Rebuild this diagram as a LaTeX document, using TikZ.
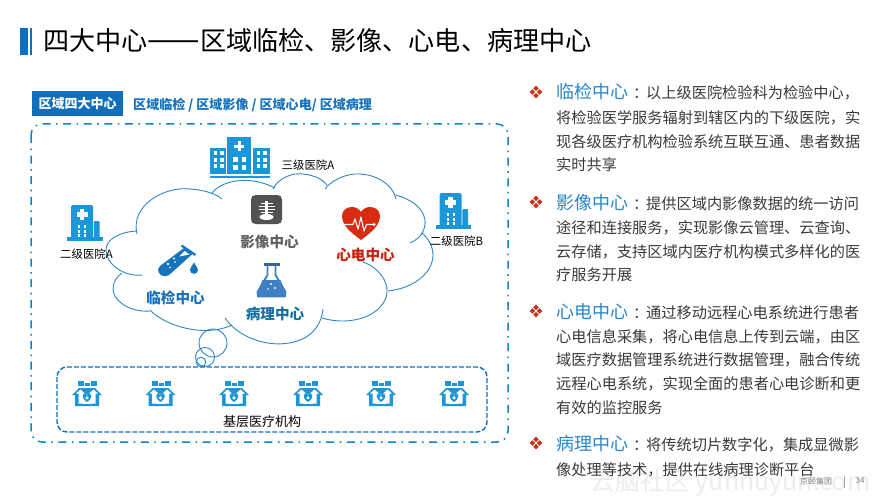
\documentclass[tikz,border=0pt]{standalone}
\usepackage{fontspec}
\setmainfont{Noto Sans CJK SC}
\definecolor{deepblue}{HTML}{0F6FBA}
\definecolor{iconblue}{HTML}{1B96D8}
\definecolor{cloudline}{HTML}{2F86C3}
\definecolor{headblue}{HTML}{2A86C8}
\definecolor{tubeblue}{HTML}{1673BD}
\definecolor{flaskblue}{HTML}{3F80C2}
\definecolor{bodygrey}{HTML}{3A3A3A}
\definecolor{heartred}{HTML}{D92A12}
\definecolor{bulletred}{HTML}{C8321C}
\newcommand{\sized}[1]{\fontsize{#1}{#1}\selectfont}
\tikzset{
  x=1pt,y=-1pt,
  bodyline/.style={anchor=base west,inner sep=0pt,text=bodygrey,font=\sized{15.2}},
  headline/.style={anchor=base west,inner sep=0pt,text=headblue,font=\sized{18}},
  centrelabel/.style={anchor=center,inner sep=0pt,font=\bfseries\sized{14.6}},
  hosplabel/.style={anchor=center,inner sep=0pt,text=black,font=\sized{11.4}},
  cloudarc/.style={draw=cloudline,line width=0.9pt},
}
% four small diamonds forming a list bullet
\newcommand{\listmark}[1]{%
  \begin{scope}[shift={(536,#1)}]
    \foreach \dx/\dy in {0/-3.6,0/3.6,-3.6/0,3.6/0}
      \fill[bulletred] (\dx,\dy-2.8) -- (\dx+2.8,\dy) -- (\dx,\dy+2.8) -- (\dx-2.8,\dy) -- cycle;
  \end{scope}}
% community clinic icon, drawn about its own centre
\newcommand{\clinic}[1]{%
  \begin{scope}[shift={(#1,394)}]
    \fill[iconblue] (-9,-13) rectangle (-3,-8);
    \fill[iconblue] (-2,-11) rectangle (3,-8);
    \fill[iconblue] (4,-13) rectangle (10,-8);
    \fill[iconblue] (-15,1) -- (-8,-6) -- (8,-6) -- (15,1) -- (12,1) -- (12,12) -- (-12,12) -- (-12,1) -- cycle;
    \fill[white] (-8.5,9.5) -- (-8.5,-0.5) -- (-11,-0.5) -- (-6.5,-4.5) -- (-2,-0.5) -- (-4.5,-0.5) -- (-4.5,9.5) -- cycle;
    \fill[white] (8.5,9.5) -- (8.5,-0.5) -- (11,-0.5) -- (6.5,-4.5) -- (2,-0.5) -- (4.5,-0.5) -- (4.5,9.5) -- cycle;
    \fill[white] (-5,0) rectangle (5,9.5);
    \fill[iconblue] (0,8) .. controls (-7,3.5) and (-4.5,-2.5) .. (0,0.5) .. controls (4.5,-2.5) and (7,3.5) .. (0,8) -- cycle;
    \fill[white] (0,3.8) circle[radius=1.7pt];
  \end{scope}}
% small hospital icon: origin at the top left of the main block
\newcommand{\smallhospital}[2]{%
  \begin{scope}[shift={(#1,#2)}]
    \fill[iconblue,rounded corners=1.5pt] (0,0) rectangle (22,33);
    \fill[iconblue,rounded corners=1pt] (22.8,16) rectangle (28.5,33);
    \fill[iconblue] (-4,32) rectangle (31.5,35.5);
    \fill[white] (8.6,4) rectangle (13.4,15);
    \fill[white] (5.5,7.1) rectangle (16.5,11.9);
    \foreach \wx in {7.2,13}
      \foreach \wy in {20,25,29}
        \fill[white] (\wx,\wy) rectangle +(2.2,2.6);
  \end{scope}}
\begin{document}
\begin{tikzpicture}
\useasboundingbox (0,0) rectangle (891,500);
\fill[white] (0,0) rectangle (891,500);

% pale site mark along the lower right corner
\node[anchor=base west,inner sep=0pt,text=black!7,font=\sized{25}] (sitemark) at (590,490) {云脑社区 yunhuyun.com};

% title with its double bar
\fill[deepblue] (20,28) rectangle (28,55);
\fill[deepblue] (30,28) rectangle (32,55);
\node[anchor=base west,inner sep=0pt,text=black,font=\sized{26.1}] (title) at (43,51) {四大中心{\sized{31.3}——}区域临检、影像、心电、病理中心};

% caption tab and its list of centres
\node[anchor=center,minimum width=91pt,minimum height=25pt,inner sep=0pt,fill=deepblue,text=white,font=\bfseries\sized{13}] (tab) at (77.5,104) {区域四大中心};
\node[anchor=base west,inner sep=0pt,text=tubeblue,font=\bfseries\sized{13.05}] (tablist) at (133,110) {区域临检 / 区域影像 / 区域心电/ 区域病理};

% outer frame and the frame of the primary care row
\draw[deepblue!85!cyan,line width=1.5pt,rounded corners=11pt,dash pattern=on 8pt off 5.5pt on 1.6pt off 5.5pt] (31,124) rectangle (508,442);
\draw[deepblue,line width=1.4pt,rounded corners=10pt,dash pattern=on 5pt off 2pt] (57,367) rectangle (487,432);

% the cloud, lobe by lobe
\draw[cloudarc] (137,234) .. controls (130,205) and (165,186) .. (190,189) .. controls (205,190) and (216,194) .. (222,199);
\draw[cloudarc] (137,231) .. controls (118,232) and (106,240) .. (106,250) .. controls (106,265) and (125,277) .. (142,275);
\draw[cloudarc] (122,273) .. controls (112,280) and (110,292) .. (118,300) .. controls (126,309) and (140,312) .. (150,311);
\draw[cloudarc] (150,310) .. controls (165,326) and (205,338) .. (232,325);
\draw[cloudarc] (225,318) .. controls (240,340) and (275,350) .. (300,340) .. controls (314,335) and (322,322) .. (323,309);
\draw[cloudarc] (322,318) .. controls (345,325) and (375,320) .. (385,300) .. controls (392,285) and (380,268) .. (363,262);
\draw[cloudarc] (388,291) .. controls (415,288) and (433,272) .. (433,255) .. controls (433,246) and (428,238) .. (422,233);
\draw[cloudarc] (410,243) .. controls (422,238) and (426,228) .. (425,220) .. controls (423,207) and (410,199) .. (396,195);
\draw[cloudarc] (396,199) .. controls (392,182) and (372,173) .. (355,174) .. controls (342,175) and (330,182) .. (325,189);
\draw[cloudarc] (327,185) .. controls (320,176) and (305,173) .. (295,174) .. controls (285,176) and (277,181) .. (273,189);
\draw[cloudarc] (212,193) .. controls (222,180) and (250,175) .. (275,188);

% thought bubbles trailing from the cloud
\draw[cloudarc] (213,343) circle[radius=14pt];
\draw[cloudarc] (205,357) circle[radius=9.5pt];
\draw[cloudarc] (201,362) circle[radius=4.8pt];

% tertiary hospital, three blocks on one line
\fill[iconblue] (210,148) rectangle (226,174);
\fill[iconblue] (227,137) rectangle (251,174);
\fill[iconblue] (253,148) rectangle (270,174);
\fill[iconblue] (210,176.4) rectangle (270,178);
\foreach \bx in {213.5,220,256.5,263}
  \foreach \by in {151,157.5,163.5}
    \fill[white] (\bx,\by) rectangle +(3.6,4);
\foreach \bx in {233,241.5}
  \foreach \by in {157,165}
    \fill[white] (\bx,\by) rectangle +(4.5,4.5);
\fill[white] (237.5,141) rectangle (240.5,151);
\fill[white] (234,144.5) rectangle (244,147.5);

% secondary hospitals
\smallhospital{71}{205}
\smallhospital{439.5}{193}

% test tube and drop
\fill[tubeblue] (184,248) -- (192.5,254) -- (169,275) .. controls (165,277.5) and (160,276) .. (158.5,272) .. controls (157.5,270) and (158,268) .. (160,266) -- cycle;
\fill[white] (184.5,251) -- (189.5,254.5) -- (179,256.5) -- cycle;
\fill[white] (168,264) circle[radius=1.4pt];
\fill[white] (174,258.5) circle[radius=1.1pt];
\fill[white] (175,262) circle[radius=0.9pt];
\fill[white] (170,267.5) circle[radius=0.8pt];
\draw[tubeblue,line width=2.2pt] (181.5,245.5) -- (195.5,255);
\fill[tubeblue] (194,262.5) .. controls (192,266) and (190,268) .. (190,270) .. controls (190,275) and (198,275) .. (198,270) .. controls (198,268) and (196,266) .. (194,262.5) -- cycle;

% imaging tile with ribcage
\fill[black!68,rounded corners=4.5pt] (251,195) rectangle (282,224);
\fill[white] (265,201) rectangle (268,214);
\foreach \ry/\rl in {203.5/6,206.5/8,209.5/8,212.5/6}
  \draw[white,line width=1.3pt] (266.5-\rl,\ry) -- (266.5+\rl,\ry);
\fill[white] (266.5,217) ellipse[x radius=7pt,y radius=3pt];

% flask
\fill[flaskblue] (262.5,280) -- (280.5,280) -- (285,293) -- (285,296) -- (258,296) -- (258,293) -- cycle;
\draw[flaskblue,line width=1.9pt,line join=round] (267.5,265) -- (267.5,275) -- (257.5,292) -- (258,296.5) -- (285,296.5) -- (285.5,292) -- (275.5,275) -- (275.5,265);
\draw[flaskblue!80!black,line width=2.2pt] (263.5,264.5) -- (279.5,264.5);
\fill[white] (271,284) circle[radius=1.2pt];
\fill[white] (275,288) circle[radius=1.2pt];
\fill[white] (268,289) circle[radius=0.9pt];

% heart with trace
\fill[heartred] (361,240) .. controls (350,232) and (342,225) .. (342,216) .. controls (342,210) and (347,207) .. (352,207) .. controls (356,207) and (359,209) .. (361,212) .. controls (363,209) and (366,207) .. (370,207) .. controls (375,207) and (380,210) .. (380,216) .. controls (380,225) and (372,232) .. (361,240) -- cycle;
\draw[white,line width=1.1pt,line join=round] (342.5,224.5) -- (353,224.5) -- (355,219) -- (358,229) -- (361,217) -- (364,231) -- (366.5,224.5) -- (373,224.5);
\fill[white] (374,224.5) circle[radius=1.7pt];

% primary care icons
\foreach \cx in {87,160.5,234,308,381,454} {\clinic{\cx}}

% labels inside the diagram
\node[centrelabel,text=tubeblue] (lab) at (175.5,298) {临检中心};
\node[centrelabel,text=black!62] (img) at (269.5,242) {影像中心};
\node[centrelabel,text=heartred!90!black] (ecg) at (365.5,254.5) {心电中心};
\node[centrelabel,text=iconblue!75!black] (path) at (275,314) {病理中心};
\node[hosplabel] (hospA) at (86.5,254) {二级医院A};
\node[hosplabel] (hospT) at (308,165) {三级医院A};
\node[hosplabel] (hospB) at (456.5,241.5) {二级医院B};
\node[anchor=center,inner sep=0pt,text=black,font=\sized{13}] (base) at (262,422) {基层医疗机构};

% right column
\listmark{92}
\node[headline] (h1) at (556,99) {临检中心};
\node[bodyline] at (633,99) {：};
\node[bodyline] at (646,99) {以上级医院检验科为检验中心，};
\node[bodyline] at (556,123.5) {将检验医学服务辐射到辖区内的下级医院，实};
\node[bodyline] at (556,147) {现各级医疗机构检验系统互联互通、患者数据};
\node[bodyline] at (556,170) {实时共享};

\listmark{202}
\node[headline] (h2) at (556,209) {影像中心};
\node[bodyline] at (633,209) {：};
\node[bodyline] at (646,209) {提供区域内影像数据的统一访问};
\node[bodyline] at (556,233) {途径和连接服务，实现影像云管理、云查询、};
\node[bodyline] at (556,257) {云存储，支持区域内医疗机构模式多样化的医};
\node[bodyline] at (556,280) {疗服务开展};

\listmark{311}
\node[headline] (h3) at (556,318) {心电中心};
\node[bodyline] at (633,318) {：};
\node[bodyline] at (646,318) {通过移动远程心电系统进行患者};
\node[bodyline] at (556,342) {心电信息采集，将心电信息上传到云端，由区};
\node[bodyline] at (556,365) {域医疗数据管理系统进行数据管理，融合传统};
\node[bodyline] at (556,389) {远程心电系统，实现全面的患者心电诊断和更};
\node[bodyline] at (556,413) {有效的监控服务};

\listmark{443}
\node[headline] (h4) at (556,450) {病理中心};
\node[bodyline] at (633,450) {：};
\node[bodyline] at (646,450) {将传统切片数字化，集成显微影};
\node[bodyline] at (556,475) {像处理等技术，提供在线病理诊断平台};

% footer
\node[anchor=center,inner sep=0pt,text=black!50,font=\sized{8}] (firm) at (816,481) {京颐集团};
\draw[black!35,line width=0.5pt] (844,476) -- (844,488);
\node[anchor=center,inner sep=0pt,text=black!50,font=\sized{8}] (page) at (860,481) {34};
\end{tikzpicture}
\end{document}
